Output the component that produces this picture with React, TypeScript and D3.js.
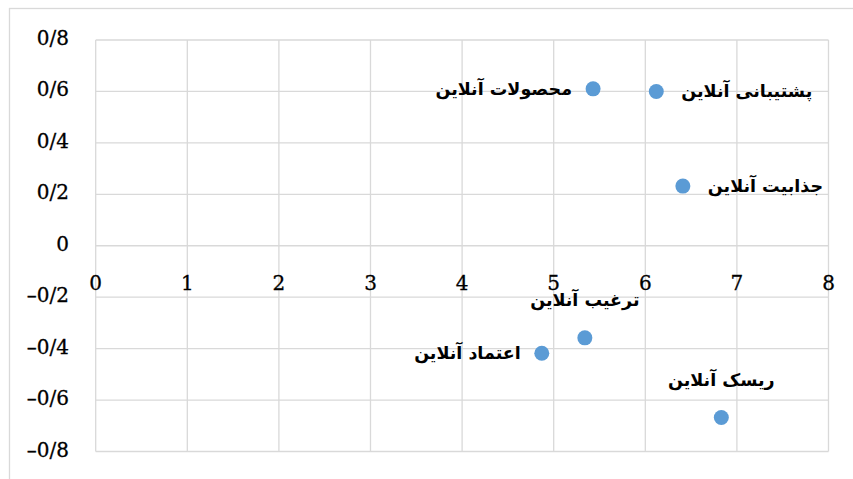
import React from "react";
import * as d3 from "d3";

const names = ["محصولات آنلاین", "پشتیبانی آنلاین", "جذابیت آنلاین", "ترغیب آنلاین", "اعتماد آنلاین", "ریسک آنلاین"];
const xValues = [5.43, 6.12, 6.41, 5.34, 4.87, 6.83];
const yValues = [0.61, 0.6, 0.232, -0.358, -0.418, -0.668];
const labelPos = ["left", "right", "right", "top", "left", "top"];
const xTicks = [0, 1, 2, 3, 4, 5, 6, 7, 8];
const yTicks = [-0.8, -0.6, -0.4, -0.2, 0, 0.2, 0.4, 0.6, 0.8];
const yTickLabels = ["–0/8", "–0/6", "–0/4", "–0/2", "0", "0/2", "0/4", "0/6", "0/8"];

export default function App() {
  const W = 853, H = 479;
  const x = d3.scaleLinear().domain([0, 8]).range([95.7, 828.5]);
  const y = d3.scaleLinear().domain([-0.8, 0.8]).range([451.5, 40]);
  const grid = "#d9d9d9";
  return (
    <svg width={W} height={H} style={{ position: "absolute", left: 0, top: 0, background: "#fff" }}>
      <rect x={9.5} y={8.5} width={900} height={600} fill="#fff" stroke={grid} strokeWidth={1.3} />
      {yTicks.map((t) => (
        <line key={"h" + t} x1={x(0)} x2={x(8)} y1={y(t)} y2={y(t)} stroke={grid} strokeWidth={1.3} />
      ))}
      {xTicks.map((t) => (
        <line key={"v" + t} x1={x(t)} x2={x(t)} y1={y(0.8)} y2={y(-0.8)} stroke={grid} strokeWidth={1.3} />
      ))}
      {yTicks.map((t, i) => (
        <text key={"yl" + t} x={69} y={y(t) + 5} textAnchor="end" fontFamily="DejaVu Serif" fontSize={20} fill="#000" stroke="#000" strokeWidth={0.3}>
          {yTickLabels[i]}
        </text>
      ))}
      {xTicks.map((t) => (
        <text key={"xl" + t} x={x(t)} y={y(0) + 44} textAnchor="middle" fontFamily="DejaVu Serif" fontSize={20} fill="#000" stroke="#000" strokeWidth={0.3}>
          {t}
        </text>
      ))}
      {xValues.map((v, i) => (
        <circle key={"c" + i} cx={x(v)} cy={y(yValues[i])} r={7.5} fill="#5b9bd5" />
      ))}
      {names.map((n, i) => {
        const px = x(xValues[i]);
        const py = y(yValues[i]);
        const p = labelPos[i];
        let tx = px, ty = py + 6, anchor = "middle";
        if (p === "left") { tx = px - 21; anchor = "end"; }
        if (p === "right") { tx = px + 25; anchor = "start"; }
        if (p === "top") { ty = py - 32; }
        return (
          <text key={"l" + i} x={tx} y={ty} textAnchor={anchor}
            fontFamily="DejaVu Sans" fontWeight="bold" fontSize={17.5} fill="#000">
            {n}
          </text>
        );
      })}
    </svg>
  );
}
